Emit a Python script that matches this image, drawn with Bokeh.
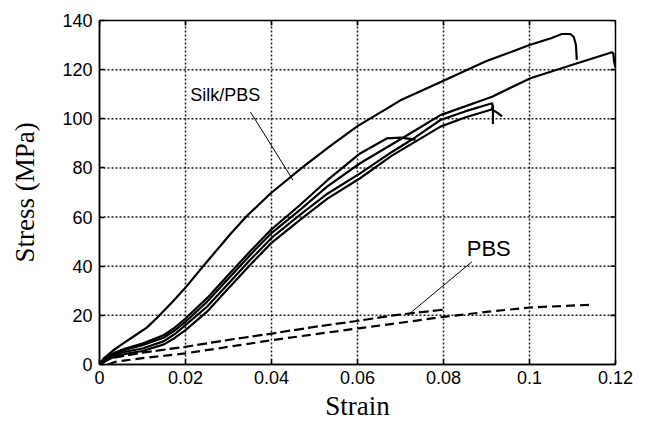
from bokeh.plotting import figure
from bokeh.models import FixedTicker
from bokeh.core.properties import value
from bokeh.embed import file_html
from bokeh.resources import INLINE

# ---------------- data ----------------
x_ticks = [0, 0.02, 0.04, 0.06, 0.08, 0.1, 0.12]
x_tick_labels = ["0", "0.02", "0.04", "0.06", "0.08", "0.1", "0.12"]
y_ticks = [0, 20, 40, 60, 80, 100, 120, 140]
y_tick_labels = ["0", "20", "40", "60", "80", "100", "120", "140"]

# Silk/PBS specimen A (highest curve)
silk_a_strain = [0, 0.001, 0.003, 0.005, 0.008, 0.011, 0.0134, 0.017, 0.02, 0.0241, 0.0275, 0.0304,
                 0.0343, 0.0397, 0.0474, 0.0537, 0.06, 0.07, 0.08, 0.09, 0.1, 0.105, 0.1075,
                 0.1095, 0.1103, 0.1108, 0.111]
silk_a_stress = [0, 2.5, 5.5, 8, 11.5, 15.0, 19.0, 25.5, 31.3, 40, 47, 53,
                 60.5, 69.5, 80.5, 89, 97, 107.5, 115.5, 123.5, 130, 132.8, 134.5,
                 134.5, 133.3, 130, 124]

# Silk/PBS specimen B (runs to 0.12)
silk_b_strain = [0, 0.001, 0.003, 0.006, 0.01, 0.015, 0.0175, 0.02, 0.025, 0.03, 0.035, 0.04, 0.0467,
                 0.053, 0.0606, 0.07, 0.0793, 0.0913, 0.1002, 0.11, 0.1192, 0.1195, 0.1197,
                 0.1199, 0.12]
silk_b_stress = [0, 1.8, 4, 6, 7.9, 11, 13.9, 17.4, 25.5, 35, 44.5, 53.5, 63,
                 72.5, 81.9, 91.7, 101.5, 109, 116.5, 122, 127.1, 126.5, 123,
                 121.5, 121]

# Silk/PBS specimen C
silk_c_strain = [0, 0.001, 0.003, 0.006, 0.01, 0.015, 0.0175, 0.02, 0.025, 0.03, 0.035, 0.04, 0.0467,
                 0.053, 0.0606, 0.068, 0.0735, 0.0793, 0.085, 0.0913, 0.0915]
silk_c_stress = [0, 1.5, 3.5, 5.2, 6.5, 9.5, 12.4, 16, 23.5, 33, 42.5, 51.5, 61,
                 69.5, 77.8, 86.5, 92.5, 99.5, 103, 106.3, 104.5]

# Silk/PBS specimen D (with the break spike)
silk_d_strain = [0, 0.001, 0.003, 0.006, 0.01, 0.015, 0.0175, 0.02, 0.025, 0.03, 0.035, 0.04, 0.0467,
                 0.053, 0.0606, 0.068, 0.0793, 0.085, 0.0912, 0.0915, 0.0915, 0.0915, 0.0925,
                 0.0936]
silk_d_stress = [0, 1.0, 2.8, 4.3, 5.5, 8.2, 10.8, 14, 21.5, 31, 40.5, 49.5, 59,
                 67.5, 75.8, 85, 96.8, 100.5, 103.8, 105.2, 98.2, 103.5, 102.5,
                 101]

# Silk/PBS specimen K (with the plateau)
silk_k_strain = [0, 0.001, 0.003, 0.006, 0.01, 0.015, 0.0175, 0.02, 0.025, 0.03, 0.035, 0.04, 0.0467,
                 0.053, 0.0606, 0.0668, 0.07, 0.0735]
silk_k_stress = [0, 2.0, 4.5, 6.5, 8.5, 12, 15.0, 18.7, 27, 36.5, 46, 55, 65,
                 75, 85.9, 92, 92.3, 91.5]

# neat PBS (dashed)
pbs_1_strain = [0.0005, 0.0022, 0.01, 0.0199, 0.03, 0.0401, 0.05, 0.0602, 0.0688, 0.0804]
pbs_1_stress = [0.5, 2.4, 4.8, 7.2, 10, 12.6, 15.3, 17.8, 20.1, 22.4]
pbs_2_strain = [0.002, 0.0037, 0.01, 0.0199, 0.03, 0.0401, 0.05, 0.0602, 0.0688, 0.08, 0.09,
                0.1, 0.1141]
pbs_2_stress = [0, 1.1, 2.6, 4.5, 7.2, 9.9, 12.3, 14.7, 16.7, 19.4, 21.4,
                23.2, 24.3]

# annotations: labels and leader lines
label_texts = ["Silk/PBS", "PBS"]
label_strain = [0.0211, 0.0854]
label_stress = [109.6, 47.3]
silk_leader_strain = [0.0351, 0.0450]
silk_leader_stress = [102.8, 75.0]
pbs_leader_strain = [0.0866, 0.0717]
pbs_leader_stress = [41.8, 20.1]

# ---------------- figure ----------------
FRAME_W, FRAME_H = 516, 344
x0, x1 = x_ticks[0], x_ticks[-1]
y0, y1 = y_ticks[0], y_ticks[-1]

p = figure(frame_width=FRAME_W, frame_height=FRAME_H,
           x_range=(x0, x1), y_range=(y0, y1),
           output_backend="svg", toolbar_location=None,
           min_border_left=99, min_border_right=25, min_border_top=20, min_border_bottom=0,
           background_fill_color="white", border_fill_color="white")

p.outline_line_color = "black"
p.outline_line_width = 1.5
p.outline_line_alpha = 1

tick_font = "Liberation Sans"
label_font = "Liberation Serif"

for ax in (p.xaxis[0], p.yaxis[0]):
    ax.major_tick_in = 5
    ax.major_tick_out = 0
    ax.minor_tick_in = 0
    ax.minor_tick_out = 0
    ax.axis_line_color = "black"
    ax.axis_line_width = 1.5
    ax.major_tick_line_color = "black"
    ax.major_tick_line_width = 1.5
    ax.major_label_text_font = tick_font
    ax.major_label_text_font_size = "18px"
    ax.major_label_text_color = "black"
    ax.axis_label_text_font = label_font
    ax.axis_label_text_font_size = "27px"
    ax.axis_label_text_font_style = "normal"
    ax.axis_label_text_color = "black"

p.xaxis[0].ticker = FixedTicker(ticks=x_ticks)
p.xaxis[0].major_label_overrides = dict(zip(x_ticks, x_tick_labels))
p.xaxis[0].axis_label = "Strain"
p.xaxis[0].major_label_standoff = 6
p.xaxis[0].axis_label_standoff = 4

p.yaxis[0].ticker = FixedTicker(ticks=y_ticks)
p.yaxis[0].major_label_overrides = dict(zip(y_ticks, y_tick_labels))
p.yaxis[0].axis_label = "Stress (MPa)"
p.yaxis[0].major_label_standoff = 7
p.yaxis[0].axis_label_standoff = 19

# built-in grid off; dotted grid drawn as segments at the interior ticks
p.grid.visible = False
gx = x_ticks[1:-1]
gy = y_ticks[1:-1]
p.segment(x0=gx, y0=[y0] * len(gx), x1=gx, y1=[y1] * len(gx),
          line_color="#1a1a1a", line_width=1.5, line_dash="2 2")
p.segment(x0=[x0] * len(gy), y0=gy, x1=[x1] * len(gy), y1=gy,
          line_color="#1a1a1a", line_width=1.5, line_dash="2 2")

# inside ticks along the top and right frame edges (5 px long)
tdx = (x1 - x0) * 5 / FRAME_W
tdy = (y1 - y0) * 5 / FRAME_H
p.segment(x0=x_ticks, y0=[y1] * len(x_ticks), x1=x_ticks, y1=[y1 - tdy] * len(x_ticks),
          line_color="black", line_width=1.6)
p.segment(x0=[x1] * len(y_ticks), y0=y_ticks, x1=[x1 - tdx] * len(y_ticks), y1=y_ticks,
          line_color="black", line_width=1.6)

# silk curves
for xs, ys in [(silk_a_strain, silk_a_stress), (silk_b_strain, silk_b_stress),
               (silk_c_strain, silk_c_stress), (silk_d_strain, silk_d_stress),
               (silk_k_strain, silk_k_stress)]:
    p.line(xs, ys, line_color="black", line_width=2.2, line_join="round")

# PBS curves
p.line(pbs_1_strain, pbs_1_stress, line_color="black", line_width=2.2, line_dash="10 4")
p.line(pbs_2_strain, pbs_2_stress, line_color="black", line_width=2.2, line_dash="9 5")

# leaders
p.line(silk_leader_strain, silk_leader_stress, line_color="black", line_width=1)
p.line(pbs_leader_strain, pbs_leader_stress, line_color="black", line_width=1)

# labels
p.text(x=[label_strain[0]], y=[label_stress[0]], text=[label_texts[0]],
       text_font=value(tick_font), text_font_size="18px", text_color="black",
       text_align="left", text_baseline="middle")
p.text(x=[label_strain[1]], y=[label_stress[1]], text=[label_texts[1]],
       text_font=value(tick_font), text_font_size="22px", text_color="black",
       text_align="left", text_baseline="middle")

open("out.html", "w").write(file_html(p, INLINE))
